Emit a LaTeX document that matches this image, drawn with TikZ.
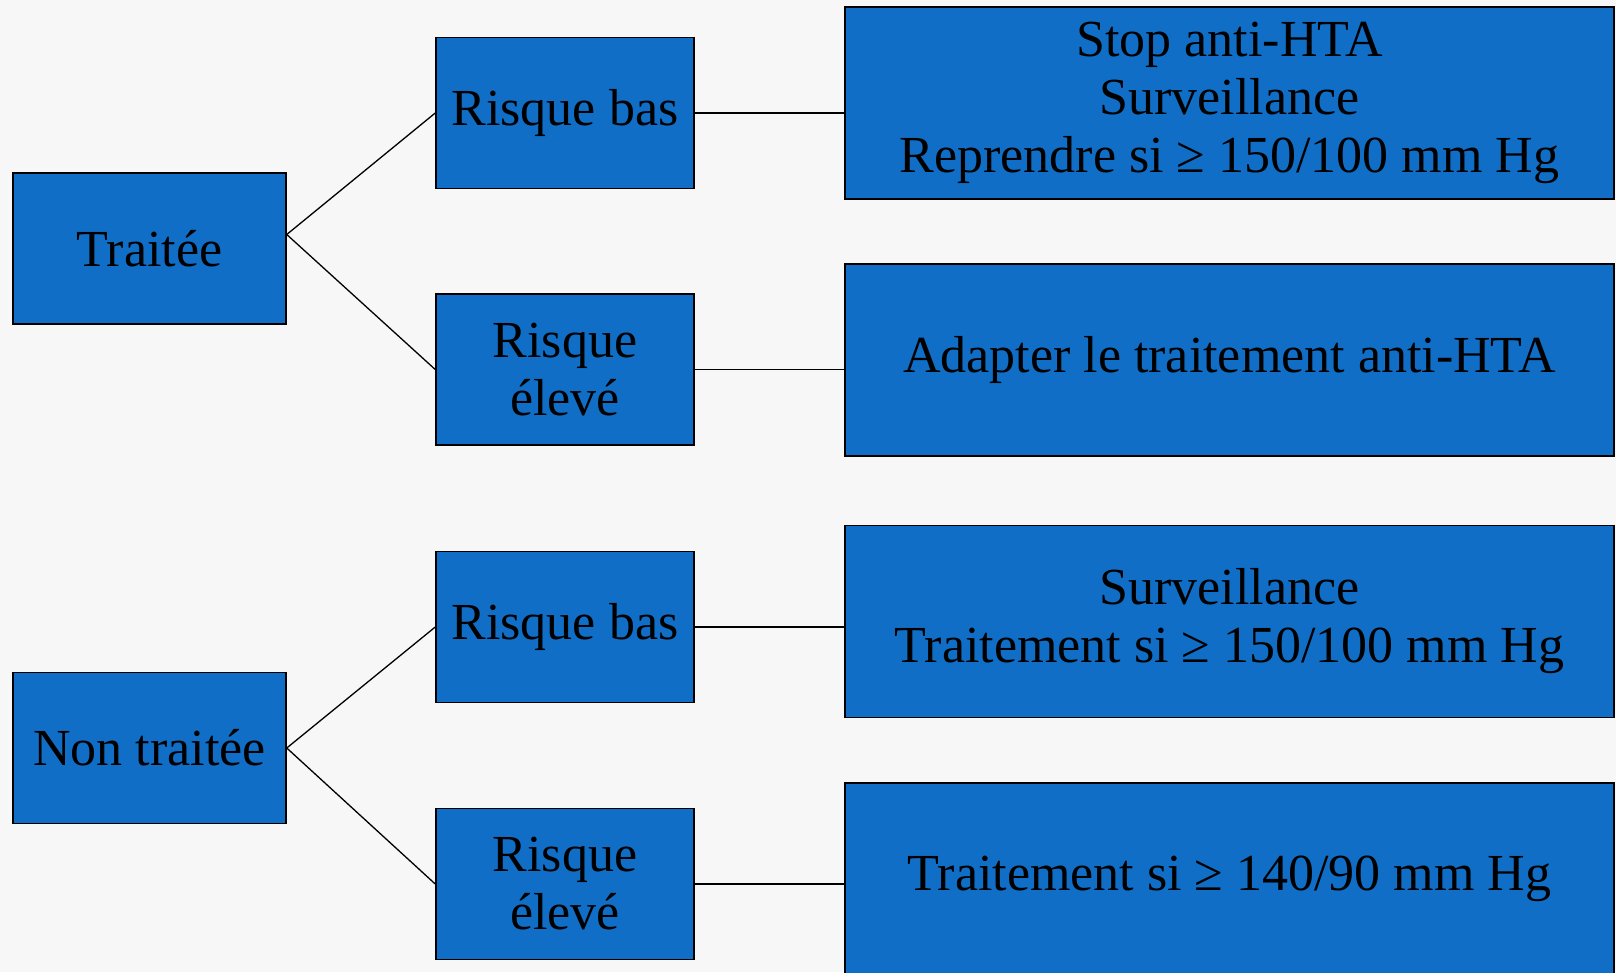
\documentclass[tikz,border=0pt]{standalone}
\usepackage{fontspec}
\setmainfont{Liberation Serif}
\definecolor{boxblue}{RGB}{16,110,198}
\definecolor{bg}{RGB}{247,247,247}
\begin{document}
\begin{tikzpicture}[x=1pt,y=-1pt,
  box/.style={draw=black, line width=1.5pt, fill=boxblue, align=center, inner sep=0pt,
    font=\fontsize{52}{58}\selectfont, text=black},
  small/.style={box, minimum width=258pt, minimum height=151pt},
  left/.style={box, minimum width=273pt, minimum height=151pt},
  wide/.style={box, minimum width=769pt, minimum height=192pt},
  link/.style={draw=black, line width=1.3pt}]
\fill[bg] (0,0) rectangle (1616,972);
\useasboundingbox (0,0) rectangle (1616,972);

\node[left] (t) at (149.5,248.5) {Traitée};
\node[left] (nt) at (149.5,748) {Non traitée};
\node[small] (rb1) at (565,113) {Risque bas};
\node[small] (re1) at (565,369.5) {Risque\\élevé};
\node[small] (rb2) at (565,627) {Risque bas};
\node[small] (re2) at (565,884) {Risque\\élevé};
\node[wide] (r1) at (1229.5,103) {Stop anti-HTA\\Surveillance\\Reprendre si ≥ 150/100 mm Hg};
\node[wide] (r2) at (1229.5,360) {Adapter le traitement anti-HTA};
\node[wide] (r3) at (1229.5,621.5) {Surveillance\\Traitement si ≥ 150/100 mm Hg};
\node[wide] (r4) at (1229.5,879) {Traitement si ≥ 140/90 mm Hg};

\coordinate (tp) at ([yshift=14pt]t.east);
\draw[link] (tp) -- (rb1.west);
\draw[link] (tp) -- (re1.west);
\draw[link] (nt.east) -- (rb2.west);
\draw[link] (nt.east) -- (re2.west);
\draw[link] (rb1.east) -- (rb1.east -| r1.west);
\draw[link] (re1.east) -- (re1.east -| r2.west);
\draw[link] (rb2.east) -- (rb2.east -| r3.west);
\draw[link] (re2.east) -- (re2.east -| r4.west);
\end{tikzpicture}
\end{document}
